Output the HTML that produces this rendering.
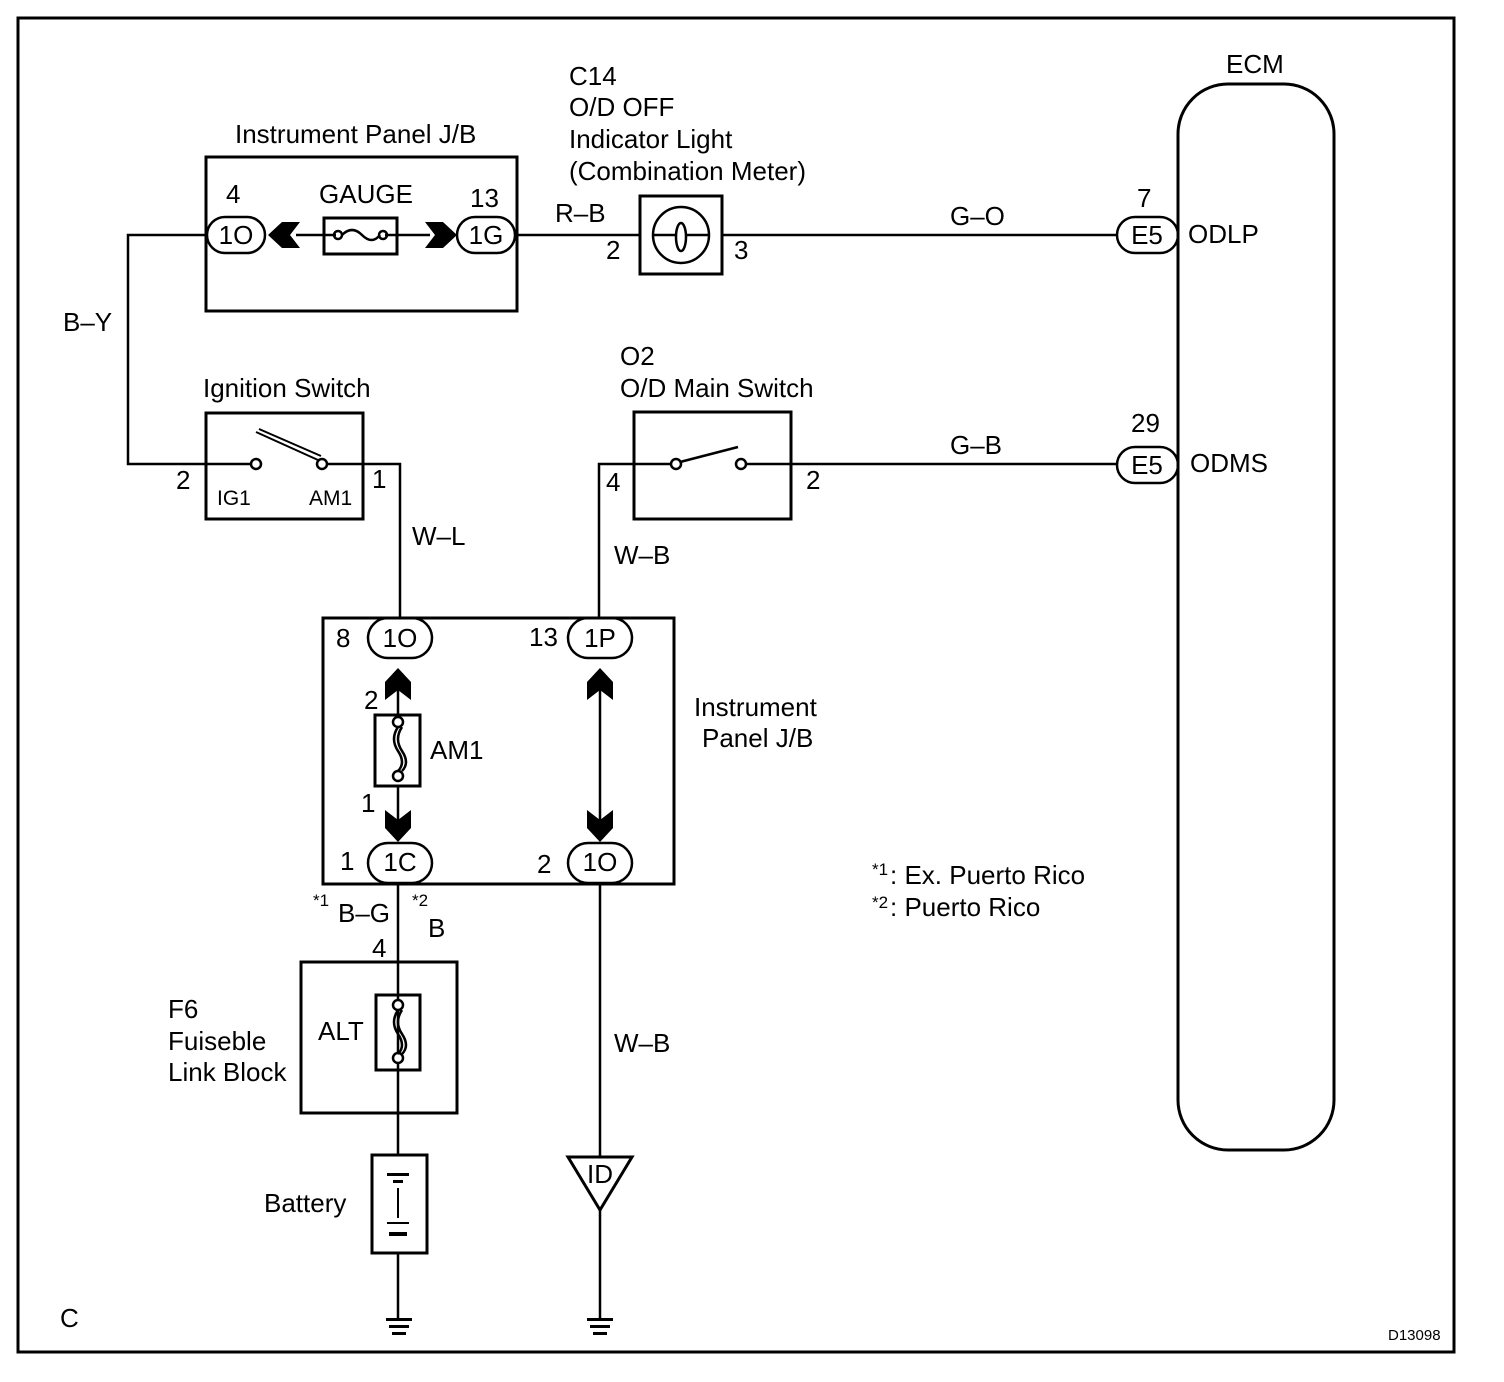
<!DOCTYPE html>
<html><head><meta charset="utf-8"><style>
html,body{margin:0;padding:0;background:#fff}
svg{display:block}
text{font-family:"Liberation Sans",Arial,sans-serif;font-size:26px;fill:#000}
</style></head><body>
<svg width="1504" height="1382" viewBox="0 0 1504 1382" xmlns="http://www.w3.org/2000/svg">
<g fill="none" stroke="#000" stroke-width="2.5">
<rect x="18" y="18" width="1436" height="1334" stroke-width="3"/>
<rect x="206" y="157" width="311" height="154" stroke-width="3"/>
<rect x="207" y="217" width="58" height="36" rx="18"/>
<rect x="457" y="217" width="58" height="36" rx="18"/>
<rect x="324" y="218" width="73" height="36" stroke-width="3"/>
<line x1="296" y1="235" x2="336" y2="235"/>
<line x1="385" y1="235" x2="430" y2="235"/>
<circle cx="338" cy="235" r="4"/><circle cx="383" cy="235" r="4"/>
<path d="M342 235 q10 -10 20 0 q10 10 18 0"/>
<polyline points="207,235 128,235 128,464 252,464"/>
<rect x="206" y="413" width="157" height="106" stroke-width="3"/>
<circle cx="256" cy="464" r="5"/><circle cx="322" cy="464" r="5"/>
<path d="M256 432 L318 460 M259 429 L321 456" stroke-width="2"/>
<polyline points="327,464 400,464 400,618"/>
<line x1="515" y1="235" x2="640" y2="235"/>
<rect x="640" y="196" width="82" height="78" stroke-width="3"/>
<circle cx="681" cy="235" r="28"/>
<ellipse cx="681" cy="237" rx="5" ry="14"/>
<line x1="653" y1="235" x2="676" y2="235"/><line x1="686" y1="235" x2="709" y2="235"/>
<line x1="722" y1="235" x2="1117" y2="235"/>
<rect x="1117" y="217" width="61" height="36" rx="18"/>
<rect x="1178" y="84" width="156" height="1066" rx="50" stroke-width="3"/>
<rect x="634" y="412" width="157" height="107" stroke-width="3"/>
<circle cx="676" cy="464" r="5"/><circle cx="741" cy="464" r="5"/>
<line x1="680" y1="462" x2="738" y2="447"/>
<polyline points="671,464 599,464 599,618"/>
<line x1="746" y1="464" x2="1117" y2="464"/>
<rect x="1117" y="447" width="61" height="36" rx="18"/>
<rect x="323" y="618" width="351" height="266" stroke-width="3"/>
<rect x="368" y="618" width="64" height="40" rx="20"/>
<rect x="568" y="618" width="64" height="40" rx="20"/>
<rect x="368" y="843" width="64" height="40" rx="20"/>
<rect x="568" y="843" width="64" height="40" rx="20"/>
<line x1="398" y1="680" x2="398" y2="716"/>
<rect x="375" y="715" width="45" height="71" stroke-width="3"/>
<circle cx="398" cy="722" r="5"/><circle cx="398" cy="776" r="5"/>
<path d="M398 727 q-8 12 0 24 q8 12 0 20 M402 727 q-8 12 0 24 q8 12 0 20"/>
<line x1="398" y1="786" x2="398" y2="820"/>
<line x1="600" y1="680" x2="600" y2="820"/>
<line x1="398" y1="883" x2="398" y2="1155"/>
<rect x="301" y="962" width="156" height="151" stroke-width="3"/>
<rect x="376" y="995" width="44" height="75" stroke-width="3"/>
<circle cx="398" cy="1005" r="5" fill="#fff"/><circle cx="398" cy="1058" r="5" fill="#fff"/>
<path d="M398 1010 q-8 12 0 24 q8 12 0 20 M402 1010 q-8 12 0 24 q8 12 0 20"/>
<rect x="372" y="1155" width="55" height="98" stroke-width="3"/>
<line x1="398" y1="1253" x2="398" y2="1318"/>
<line x1="600" y1="883" x2="600" y2="1157"/>
<polygon points="568,1157 632,1157 600,1210" stroke-width="3"/>
<line x1="600" y1="1210" x2="600" y2="1318"/>
</g>
<g fill="#000">
<polygon points="268,235 282,222 300,222 290,235 300,248 282,248"/>
<polygon points="457,235 443,222 425,222 435,235 425,248 443,248"/>
<polygon points="398,668 385,682 385,700 398,690 411,700 411,682"/>
<polygon points="600,668 587,682 587,700 600,690 613,700 613,682"/>
<polygon points="398,842 385,828 385,810 398,820 411,810 411,828"/>
<polygon points="600,842 587,828 587,810 600,820 613,810 613,828"/>
<rect x="387" y="1173" width="22" height="3"/><rect x="393" y="1180" width="10" height="3"/>
<rect x="387" y="1222" width="22" height="2"/><rect x="389" y="1232" width="18" height="4"/>
<rect x="397" y="1188" width="2" height="30"/>
<rect x="386" y="1318" width="26" height="3"/><rect x="389" y="1325" width="20" height="3"/><rect x="392" y="1332" width="14" height="3"/>
<rect x="587" y="1318" width="26" height="3"/><rect x="590" y="1325" width="20" height="3"/><rect x="593" y="1332" width="14" height="3"/>
</g>
<text x="235" y="143">Instrument Panel J/B</text>
<text x="226" y="203">4</text>
<text x="319" y="203">GAUGE</text>
<text x="470" y="207">13</text>
<text x="236" y="244" text-anchor="middle">1O</text>
<text x="486" y="244" text-anchor="middle">1G</text>
<text x="555" y="222">R–B</text>
<text x="606" y="259">2</text>
<text x="734" y="259">3</text>
<text x="569" y="85">C14</text>
<text x="569" y="116">O/D OFF</text>
<text x="569" y="148">Indicator Light</text>
<text x="569" y="180">(Combination Meter)</text>
<text x="950" y="225">G–O</text>
<text x="1137" y="207">7</text>
<text x="1147" y="244" text-anchor="middle">E5</text>
<text x="1188" y="243">ODLP</text>
<text x="1226" y="73">ECM</text>
<text x="63" y="331">B–Y</text>
<text x="203" y="397">Ignition Switch</text>
<text x="176" y="489">2</text>
<text x="372" y="488">1</text>
<text x="217" y="505" style="font-size:21px">IG1</text>
<text x="309" y="505" style="font-size:21px">AM1</text>
<text x="620" y="365">O2</text>
<text x="620" y="397">O/D Main Switch</text>
<text x="606" y="491">4</text>
<text x="806" y="489">2</text>
<text x="950" y="454">G–B</text>
<text x="1131" y="432">29</text>
<text x="1147" y="474" text-anchor="middle">E5</text>
<text x="1190" y="472">ODMS</text>
<text x="412" y="545">W–L</text>
<text x="614" y="564">W–B</text>
<text x="336" y="647">8</text>
<text x="400" y="647" text-anchor="middle">1O</text>
<text x="529" y="646">13</text>
<text x="600" y="647" text-anchor="middle">1P</text>
<text x="364" y="709">2</text>
<text x="430" y="759">AM1</text>
<text x="361" y="812">1</text>
<text x="694" y="716">Instrument</text>
<text x="702" y="747">Panel J/B</text>
<text x="340" y="870">1</text>
<text x="400" y="871" text-anchor="middle">1C</text>
<text x="537" y="873">2</text>
<text x="600" y="871" text-anchor="middle">1O</text>
<text x="313" y="906" style="font-size:17px">*1</text>
<text x="338" y="922">B–G</text>
<text x="412" y="906" style="font-size:17px">*2</text>
<text x="428" y="937">B</text>
<text x="372" y="957">4</text>
<text x="872" y="875" style="font-size:17px">*1</text>
<text x="890" y="884">: Ex. Puerto Rico</text>
<text x="872" y="908" style="font-size:17px">*2</text>
<text x="890" y="916">: Puerto Rico</text>
<text x="168" y="1018">F6</text>
<text x="168" y="1050">Fuiseble</text>
<text x="168" y="1081">Link Block</text>
<text x="318" y="1040">ALT</text>
<text x="614" y="1052">W–B</text>
<text x="264" y="1212">Battery</text>
<text x="600" y="1183" text-anchor="middle">ID</text>
<text x="60" y="1327">C</text>
<text x="1388" y="1340" style="font-size:15px">D13098</text>
</svg>
</body></html>
